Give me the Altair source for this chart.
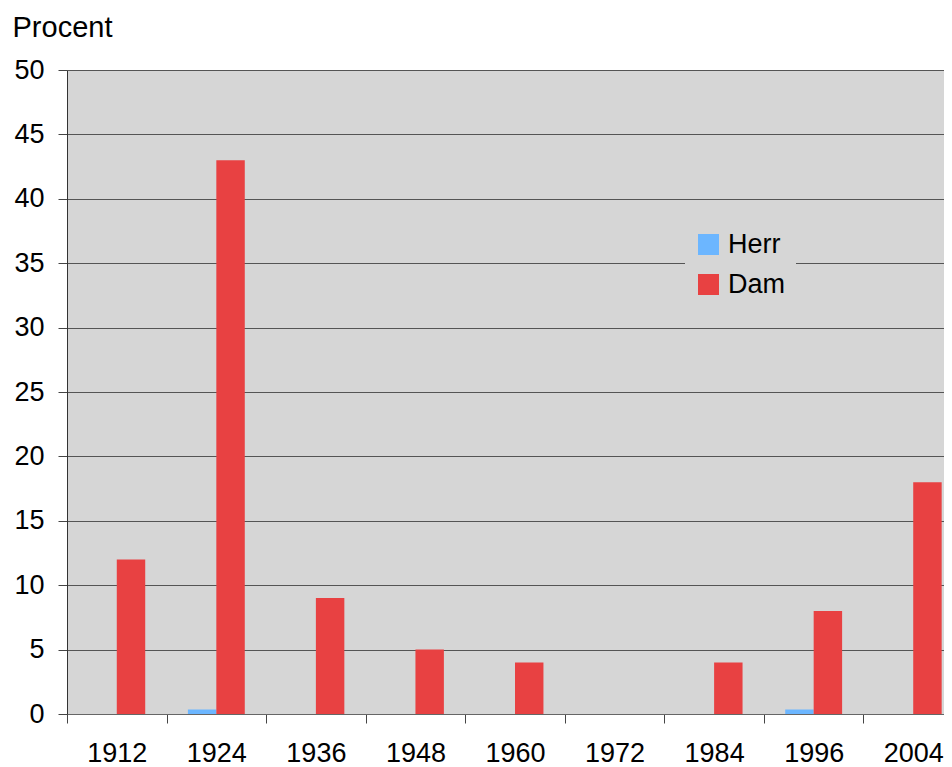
import altair as alt
import pandas as pd

years = ["1912", "1924", "1936", "1948", "1960", "1972", "1984", "1996", "2004"]
herr = [0, 0.35, 0, 0, 0, 0, 0, 0.35, 0]
dam = [12, 43, 9, 5, 4, 0, 4, 8, 18]
series = ["Herr", "Dam"]
colors = ["#6cb6ff", "#e84142"]

rows = []
for y, h, d in zip(years, herr, dam):
    rows.append({"year": y, "serie": "Herr", "value": h})
    rows.append({"year": y, "serie": "Dam", "value": d})
df = pd.DataFrame(rows)

FONT = "Liberation Sans"

chart = alt.Chart(df).mark_bar().encode(
    x=alt.X("year:N", sort=years,
            scale=alt.Scale(range=[0, 896], paddingInner=0, paddingOuter=0),
            axis=alt.Axis(title=None, labelAngle=0, labelFontSize=27, labelColor="#000",
                          labelFont=FONT, tickBand="extent", tickSize=9, tickColor="#444",
                          domainColor="#666", labelPadding=17, grid=False)),
    xOffset=alt.XOffset("serie:N", sort=series,
                        scale=alt.Scale(paddingInner=0, paddingOuter=0.75)),
    y=alt.Y("value:Q",
            scale=alt.Scale(domain=[0, 50], nice=False),
            axis=alt.Axis(values=list(range(0, 51, 5)), title="Procent",
                          titleAngle=0, titleAlign="left", titleBaseline="alphabetic",
                          titleX=-55, titleY=-34, titleFontSize=29, titleFontWeight="normal",
                          titleFont=FONT, titleColor="#000",
                          labelFontSize=27, labelColor="#000", labelFont=FONT,
                          labelPadding=14, tickSize=9, tickColor="#444",
                          domainColor="#333", gridColor="#555", gridWidth=1)),
    color=alt.Color("serie:N", sort=series,
                    scale=alt.Scale(domain=series, range=colors),
                    legend=alt.Legend(title=None, orient="none", legendX=618, legendY=151,
                                      labelFontSize=27, labelFont=FONT, labelColor="#000",
                                      symbolType="square", symbolSize=441,
                                      symbolStrokeWidth=0, fillColor="#d6d6d6",
                                      padding=10, rowPadding=12, labelOffset=6)),
).properties(
    width=877, height=644,
    autosize=alt.AutoSizeParams(type="none"),
    padding={"left": 59, "top": 62, "right": 0, "bottom": 53},
).configure_view(
    fill="#d6d6d6", stroke=None
)

chart.save("out.html", embed_options={"renderer": "svg", "actions": False})
